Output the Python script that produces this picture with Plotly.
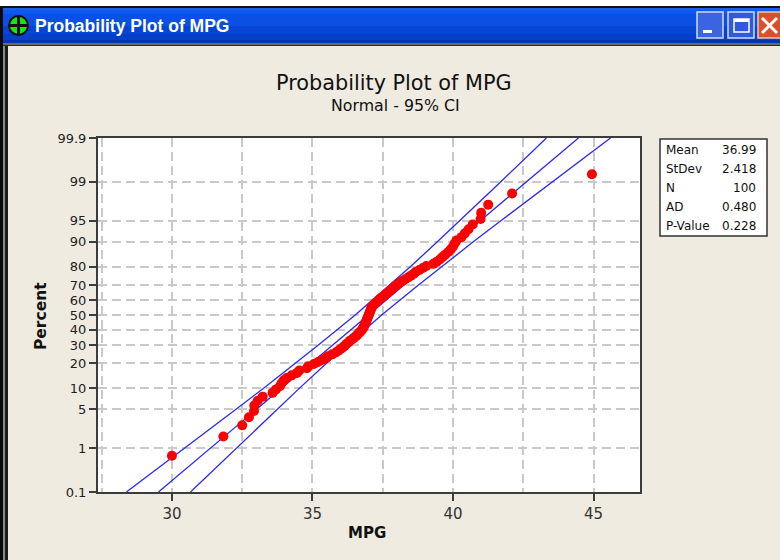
from statistics import NormalDist
import plotly.graph_objects as go

# ---- data ----
MPG = [30.0,31.83,32.5,32.74,32.92,32.93,33.05,33.23,33.58,33.7,33.84,33.9,33.98,34.08,34.26,34.45,34.53,34.8,34.85,35.05,
       35.2,35.33,35.48,35.55,35.7,35.83,35.92,36.0,36.08,36.15,36.2,36.28,36.33,36.42,36.48,36.55,36.6,36.65,36.7,36.75,
       36.78,36.82,36.84,36.86,36.88,36.91,36.93,36.95,36.97,36.99,37.01,37.03,37.05,37.07,37.09,37.1,37.15,37.2,37.25,37.32,
       37.37,37.42,37.5,37.57,37.62,37.7,37.76,37.82,37.88,37.95,38.03,38.1,38.2,38.3,38.4,38.5,38.6,38.67,38.8,38.93,
       39.05,39.3,39.42,39.53,39.62,39.72,39.83,39.92,40.0,40.05,40.12,40.3,40.42,40.55,40.7,40.98,41.0,41.25,42.1,44.94]
PERCENT = [0.7,1.7,2.7,3.7,4.7,5.7,6.7,7.7,8.7,9.7,10.7,11.7,12.7,13.6,14.6,15.6,16.6,17.6,18.6,19.6,
           20.6,21.6,22.6,23.6,24.6,25.6,26.6,27.6,28.6,29.6,30.6,31.6,32.6,33.6,34.6,35.6,36.6,37.6,38.6,39.5,
           40.5,41.5,42.5,43.5,44.5,45.5,46.5,47.5,48.5,49.5,50.5,51.5,52.5,53.5,54.5,55.5,56.5,57.5,58.5,59.5,
           60.5,61.5,62.5,63.4,64.4,65.4,66.4,67.4,68.4,69.4,70.4,71.4,72.4,73.4,74.4,75.4,76.4,77.4,78.4,79.4,
           80.4,81.4,82.4,83.4,84.4,85.4,86.4,87.4,88.4,89.3,90.3,91.3,92.3,93.3,94.3,95.3,96.3,97.3,98.3,99.3]

LINE_PCT = [0.1,1,5,10,20,30,50,70,80,90,95,99,99.9]
FIT = [29.52,31.37,33.01,33.89,34.95,35.72,36.99,38.26,39.03,40.09,40.97,42.61,44.46]
CI_LOW = [28.38,30.46,32.28,33.25,34.40,35.21,36.52,37.75,38.48,39.45,40.24,41.70,43.32]
CI_HIGH = [30.66,32.28,33.74,34.53,35.50,36.23,37.46,38.77,39.58,40.73,41.70,43.52,45.60]

Y_TICKS = [0.1,1,5,10,20,30,40,50,60,70,80,90,95,99,99.9]
Y_GRID_LABELS = [str(v) for v in Y_TICKS]
X_TICKS = [30,35,40,45]
X_MID_GRID = [27.5,32.5,37.5,42.5]

STAT_NAMES = ["Mean","StDev","N","AD","P-Value"]
STAT_VALUES = ["36.99","2.418","100","0.480","0.228"]

TITLE = "Probability Plot of MPG"
SUBTITLE = "Normal - 95% CI"

# probability-scale transform for the y axis
z = NormalDist().inv_cdf
def zs(pcts):
    return [z(p / 100) for p in pcts]

# ---- layout geometry ----
W, H = 780, 560
L, R, T, B = 98, 640, 138, 492
def px(v): return (v - L) / (R - L)
def py(v): return 1 - (v - T) / (B - T)

GRID = "#c9c9c9"
AXIS = "#3c3c3c"
BLUE = "#2a2af0"
FONT = "DejaVu Sans"
DASH = "9px,5px"

fig = go.Figure()
for xs in (CI_LOW, FIT, CI_HIGH):
    fig.add_trace(go.Scatter(x=xs, y=zs(LINE_PCT), mode="lines", showlegend=False,
                             line=dict(color=BLUE, width=1.3), hoverinfo="skip"))
fig.add_trace(go.Scatter(x=MPG, y=zs(PERCENT), mode="markers", showlegend=False,
                         marker=dict(color="#fa0000", size=10, line=dict(width=0))))

shapes = []
def rect(x0, y0, x1, y1, fill, line=None, lw=1, layer="above"):
    shapes.append(dict(type="rect", xref="paper", yref="paper", x0=px(x0), x1=px(x1), y0=py(y0), y1=py(y1),
                       fillcolor=fill, line=dict(color=line or fill, width=lw if line else 0), layer=layer))

# window chrome
rect(0, 0, 780, 6, "#ffffff")
rect(0, 6, 780, 8, "#111111")
bands = [(8,10,"#1c5fe8"),(10,14,"#0c5af0"),(14,26,"#0a50e4"),(26,34,"#0644d4"),(34,40,"#053ec8"),(40,43,"#0634b0")]
for y0, y1, c in bands:
    rect(0, y0, 780, y1, c)
rect(0, 43, 780, 45, "#6a6a62")
rect(0, 45, 780, 46, "#2b2b2b")
rect(0, 8, 3, 560, "#0a0a0a")
rect(3, 46, 5, 560, "#8a8a84")
rect(5, 46, 8, 560, "#1c1c1c")

# title bar icon
shapes.append(dict(type="circle", xref="paper", yref="paper", x0=px(9), x1=px(28), y0=py(35), y1=py(16),
                   fillcolor="#10e810", line=dict(color="#101010", width=2)))
rect(17, 17, 20, 34, "#101010")
rect(10, 24, 27, 27, "#101010")
# buttons
rect(697, 12, 723, 38, "#3a64e0", "#cfdcf8", 1.5)
rect(703, 30, 712, 33, "#ffffff")
rect(728, 12, 754, 38, "#2f5ae0", "#cfdcf8", 1.5)
rect(734, 19, 749, 32, "rgba(0,0,0,0)", "#ffffff", 1.5)
rect(734, 19, 749, 22, "#ffffff")
rect(758, 12, 782, 38, "#d8512a", "#f0c8b8", 1.5)
for (a, b, c, d) in [(762, 18, 777, 33), (762, 33, 777, 18)]:
    shapes.append(dict(type="line", xref="paper", yref="paper", x0=px(a), x1=px(c), y0=py(b), y1=py(d),
                       line=dict(color="#ffffff", width=3)))
# statistics box
rect(660, 139, 767, 236, "#ffffff", "#333333", 1.5)

ann = []
def text(x, y, s, size, color="#111111", anchor="center", bold=False, angle=0, family=FONT):
    ann.append(dict(xref="paper", yref="paper", x=px(x), y=py(y), text=f"<b>{s}</b>" if bold else s, showarrow=False,
                    xanchor=anchor, yanchor="middle", textangle=angle, font=dict(family=family, size=size, color=color)))

text(33, 26, TITLE, 17.5, "#ffffff", "left", True, family="Liberation Sans")
text(394, 83, TITLE, 20.8)
text(395, 106, SUBTITLE, 15.8)
text(367, 533, "MPG", 15, bold=True)
text(41, 316, "Percent", 15.5, bold=True, angle=-90)
for i, (n, v) in enumerate(zip(STAT_NAMES, STAT_VALUES)):
    y = 150 + i * 19
    text(664, y, n, 12, anchor="left")
    text(758, y, v, 12, anchor="right")

fig.update_layout(
    width=W, height=H, autosize=False,
    margin=dict(l=L, r=W - R, t=T, b=H - B),
    paper_bgcolor="#efebe0", plot_bgcolor="#ffffff",
    shapes=shapes, annotations=ann, showlegend=False,
    font=dict(family=FONT, color="#222222"),
    xaxis=dict(range=[27.37, 46.65], tickmode="array", tickvals=X_TICKS, ticktext=[str(v) for v in X_TICKS],
               ticks="outside", ticklen=7, tickwidth=1.5, tickcolor=AXIS, tickfont=dict(size=15, color="#333333"),
               showgrid=True, gridcolor=GRID, griddash=DASH, gridwidth=2, zeroline=False,
               showline=True, linecolor=AXIS, linewidth=2, mirror=True,
               minor=dict(tickvals=X_MID_GRID, ticks="", showgrid=True, gridcolor=GRID, griddash=DASH, gridwidth=2)),
    yaxis=dict(range=[z(0.001), z(0.999)], tickmode="array", tickvals=zs(Y_TICKS), ticktext=Y_GRID_LABELS,
               ticks="outside", ticklen=7, tickwidth=1.5, tickcolor=AXIS, tickfont=dict(size=13, color="#222222"),
               showgrid=True, gridcolor=GRID, griddash=DASH, gridwidth=2, zeroline=False,
               showline=True, linecolor=AXIS, linewidth=2, mirror=True),
)
fig.write_html("out.html", config=dict(displayModeBar=False),
               post_script="document.body.style.margin='0';document.body.style.overflow='hidden';")
